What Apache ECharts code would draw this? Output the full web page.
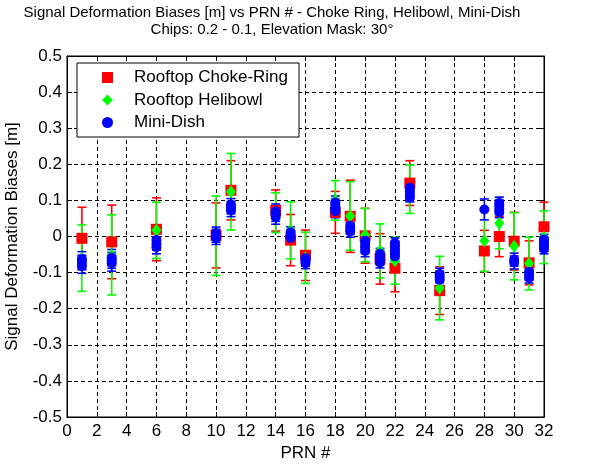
<!DOCTYPE html>
<html>
<head>
<meta charset="utf-8">
<script src="https://cdn.jsdelivr.net/npm/echarts@6/dist/echarts.min.js"></script>
<style>
  html, body { margin: 0; padding: 0; background: #fff; }
  #chart { width: 589px; height: 466px; }
</style>
</head>
<body>
<div id="chart"></div>
<script>
// Satellite PRN numbers with a bias estimate
const prnList = [1, 3, 6, 10, 11, 14, 15, 16, 18, 19, 20, 21, 22, 23, 25, 28, 29, 30, 31, 32];

// Rooftop Choke-Ring: mean bias and half-width of the error bar [m]
const chokeBias = [-0.005, -0.015, 0.020, 0.003, 0.128, 0.072, -0.010, -0.052, 0.067, 0.056,
                   0.002, -0.062, -0.088, 0.148, -0.150, -0.040, 0.000, -0.013, -0.073, 0.027];
const chokeErr  = [0.086, 0.102, 0.087, 0.090, 0.082, 0.057, 0.071, 0.070, 0.058, 0.100,
                   0.076, 0.070, 0.065, 0.062, 0.066, 0.057, 0.056, 0.080, 0.061, 0.068];

// Rooftop Helibowl
const heliBias = [-0.060, -0.051, 0.017, 0.002, 0.124, 0.066, 0.017, -0.059, 0.100, 0.057,
                  0.004, -0.040, -0.067, 0.131, -0.143, -0.012, 0.037, -0.027, -0.075, -0.002];
const heliErr  = [0.092, 0.111, 0.078, 0.110, 0.106, 0.055, 0.079, 0.071, 0.055, 0.095,
                  0.074, 0.075, 0.065, 0.067, 0.088, 0.085, 0.071, 0.093, 0.073, 0.073];

// Mini-Dish: several passes per PRN
const miniPrn  = [1, 1, 1, 3, 3, 3, 6, 6, 6, 10, 10, 10, 11, 11, 11, 14, 14, 14, 15, 15, 15,
                  16, 16, 16, 18, 18, 18, 18, 19, 19, 19, 20, 20, 20, 20, 21, 21, 21, 21,
                  22, 22, 22, 22, 22, 23, 23, 23, 23, 25, 25, 25, 28, 29, 29, 29, 29,
                  30, 30, 31, 31, 31, 32, 32, 32, 32];
const miniBias = [-0.062, -0.072, -0.082, -0.058, -0.066, -0.074, -0.010, -0.020, -0.030,
                  0.008, 0.002, -0.004, 0.088, 0.080, 0.072, 0.070, 0.062, 0.054,
                  0.012, 0.004, -0.004, -0.060, -0.067, -0.074, 0.094, 0.086, 0.078, 0.070,
                  0.030, 0.022, 0.014, -0.012, -0.020, -0.030, -0.040,
                  -0.048, -0.056, -0.064, -0.072, -0.018, -0.028, -0.038, -0.048, -0.055,
                  0.135, 0.125, 0.115, 0.108, -0.104, -0.112, -0.120, 0.075,
                  0.093, 0.085, 0.077, 0.068, -0.064, -0.072, -0.098, -0.106, -0.114,
                  -0.008, -0.016, -0.026, -0.034];
const miniErr  = [0.020, 0.020, 0.020, 0.022, 0.022, 0.022, 0.018, 0.018, 0.018,
                  0.018, 0.018, 0.018, 0.017, 0.017, 0.017, 0.020, 0.020, 0.020,
                  0.015, 0.015, 0.015, 0.015, 0.015, 0.015, 0.018, 0.018, 0.018, 0.018,
                  0.016, 0.016, 0.016, 0.016, 0.016, 0.016, 0.016,
                  0.015, 0.015, 0.015, 0.015, 0.014, 0.014, 0.014, 0.014, 0.014,
                  0.012, 0.012, 0.012, 0.012, 0.016, 0.016, 0.016, 0.029,
                  0.016, 0.016, 0.016, 0.016, 0.018, 0.018, 0.015, 0.015, 0.015,
                  0.014, 0.014, 0.014, 0.014];

// Axis ticks
const xTicks = [0, 2, 4, 6, 8, 10, 12, 14, 16, 18, 20, 22, 24, 26, 28, 30, 32];
const yTickLabels = ['-0.5', '-0.4', '-0.3', '-0.2', '-0.1', '0', '0.1', '0.2', '0.3', '0.4', '0.5'];

const FONT = 'Liberation Sans, Arial, sans-serif';
const RED = '#ff0000', GREEN = '#00ff00', BLUE = '#0000ff';

function barData(xs, ys, es) {
  return xs.map((x, i) => [x, ys[i] - es[i], ys[i] + es[i]]);
}
function pointData(xs, ys) {
  return xs.map((x, i) => [x, ys[i]]);
}

// Vertical error bar with end caps
function errorBarSeries(data, color) {
  return {
    type: 'custom',
    silent: true,
    clip: false,
    z: 2,
    data: data,
    renderItem: function (params, api) {
      const x = api.value(0);
      const lo = api.coord([x, api.value(1)]);
      const hi = api.coord([x, api.value(2)]);
      const cap = 4.5;
      const style = { stroke: color, lineWidth: 1.6 };
      return {
        type: 'group',
        children: [
          { type: 'line', shape: { x1: lo[0], y1: lo[1], x2: hi[0], y2: hi[1] }, style: style },
          { type: 'line', shape: { x1: lo[0] - cap, y1: lo[1], x2: lo[0] + cap, y2: lo[1] }, style: style },
          { type: 'line', shape: { x1: hi[0] - cap, y1: hi[1], x2: hi[0] + cap, y2: hi[1] }, style: style }
        ]
      };
    }
  };
}

const gridLine = { show: true, lineStyle: { color: '#000', type: [4, 3], width: 1 } };
const axisText = { color: '#000', fontFamily: FONT, fontSize: 17 };

const chart = echarts.init(document.getElementById('chart'), null, { renderer: 'canvas' });
chart.setOption({
  animation: false,
  backgroundColor: '#fff',
  title: {
    text: 'Signal Deformation Biases [m] vs PRN # - Choke Ring, Helibowl, Mini-Dish',
    subtext: 'Chips: 0.2 - 0.1, Elevation Mask: 30°',
    left: 267, top: 0, textAlign: 'center', itemGap: 2,
    textStyle: { fontFamily: FONT, fontSize: 15, fontWeight: 'normal', color: '#000' },
    subtextStyle: { fontFamily: FONT, fontSize: 15, color: '#000' }
  },
  grid: {
    left: 67, right: 45, top: 56, bottom: 49,
    outerBoundsMode: 'none', containLabel: false,
    show: true, borderColor: '#000', borderWidth: 1
  },
  legend: {
    left: 77, top: 63, orient: 'vertical',
    backgroundColor: '#fff', borderColor: '#000', borderWidth: 1,
    padding: [6, 11, 6, 25], itemGap: 5.5,
    itemWidth: 11, itemHeight: 11,
    textStyle: { fontFamily: FONT, fontSize: 17, color: '#000', lineHeight: 17, padding: [0, 0, 0, 16] },
    data: [
      { name: 'Rooftop Choke-Ring', icon: 'rect' },
      { name: 'Rooftop Helibowl', icon: 'diamond' },
      { name: 'Mini-Dish', icon: 'circle' }
    ]
  },
  xAxis: [{
    type: 'value', min: xTicks[0], max: xTicks[xTicks.length - 1], interval: 2,
    name: 'PRN #', nameLocation: 'middle', nameGap: 28,
    nameTextStyle: { fontFamily: FONT, fontSize: 17, color: '#000' },
    axisLine: { onZero: false, lineStyle: { color: '#000' } },
    axisTick: { inside: true, length: 5, lineStyle: { color: '#000' } },
    axisLabel: Object.assign({ margin: 6 }, axisText),
    splitLine: gridLine
  }, {
    type: 'value', position: 'top', min: 0, max: 32, interval: 2,
    axisLine: { onZero: false, lineStyle: { color: '#000' } },
    axisTick: { inside: true, length: 5, lineStyle: { color: '#000' } },
    axisLabel: { show: false }, splitLine: { show: false }
  }],
  yAxis: [{
    type: 'value', min: -0.5, max: 0.5, interval: 0.1,
    name: 'Signal Deformation Biases [m]', nameLocation: 'middle', nameGap: 46,
    nameTextStyle: { fontFamily: FONT, fontSize: 17, color: '#000' },
    axisLine: { onZero: false, lineStyle: { color: '#000' } },
    axisTick: { inside: true, length: 5, lineStyle: { color: '#000' } },
    axisLabel: Object.assign({
      margin: 5,
      formatter: v => yTickLabels[Math.round((v + 0.5) * 10)]
    }, axisText),
    splitLine: gridLine
  }, {
    type: 'value', position: 'right', min: -0.5, max: 0.5, interval: 0.1,
    axisLine: { onZero: false, lineStyle: { color: '#000' } },
    axisTick: { inside: true, length: 5, lineStyle: { color: '#000' } },
    axisLabel: { show: false }, splitLine: { show: false }
  }],
  series: [
    errorBarSeries(barData(prnList, chokeBias, chokeErr), RED),
    errorBarSeries(barData(prnList, heliBias, heliErr), GREEN),
    errorBarSeries(barData(miniPrn, miniBias, miniErr), BLUE),
    {
      name: 'Rooftop Choke-Ring', type: 'scatter', z: 3, clip: false,
      symbol: 'rect', symbolSize: 11, itemStyle: { color: RED, opacity: 1 },
      data: pointData(prnList, chokeBias)
    },
    {
      name: 'Rooftop Helibowl', type: 'scatter', z: 3, clip: false,
      symbol: 'diamond', symbolSize: [10, 13], itemStyle: { color: GREEN, opacity: 1 },
      data: pointData(prnList, heliBias)
    },
    {
      name: 'Mini-Dish', type: 'scatter', z: 3, clip: false,
      symbol: 'circle', symbolSize: 10, itemStyle: { color: BLUE, opacity: 1 },
      data: pointData(miniPrn, miniBias)
    }
  ]
});
</script>
</body>
</html>
